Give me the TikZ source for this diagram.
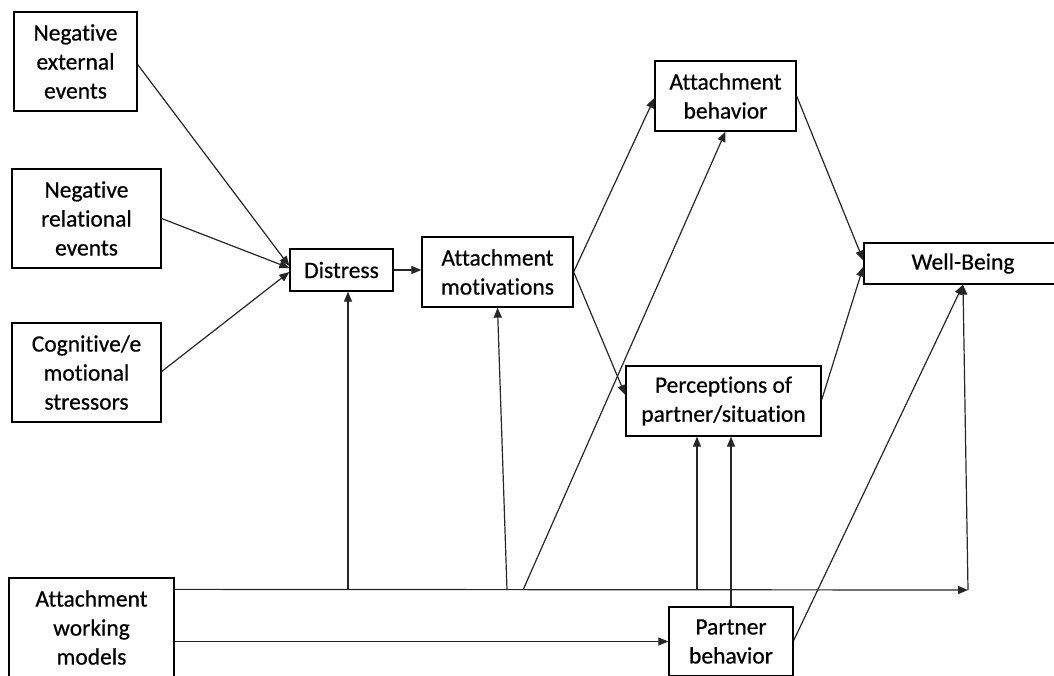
\documentclass[tikz,border=0pt]{standalone}
\usepackage{fontspec}
\setmainfont{Carlito}
\newfontfamily\boxfont{Carlito}[Ligatures=NoCommon, FakeBold=0.5]
\usetikzlibrary{arrows.meta,calc}

\begin{document}
\begin{tikzpicture}[x=1pt,y=-1pt,
  box/.style={draw=black, line width=1.3pt, align=center, inner sep=0pt,
    font=\boxfont\fontsize{23.5}{29}\selectfont},
  link/.style={line width=1.2pt, draw=black!85,
    -{Triangle[length=10pt,width=8pt]}}]

\useasboundingbox (0,0) rectangle (1054,675);
\clip (0,0) rectangle (1054,675);

% boxes
\node[box, minimum width=123, minimum height=99] (ext) at (75.5,61.5) {Negative\\external\\events};
\node[box, minimum width=149, minimum height=99] (rel) at (86.5,218.5) {Negative\\relational\\events};
\node[box, minimum width=149, minimum height=99] (cog) at (86.5,372.5) {Cognitive/e\\motional\\stressors};
\node[box, minimum width=103, minimum height=42] (dis) at (341.5,270) {Distress};
\node[box, minimum width=151, minimum height=70] (mot) at (497.5,272) {Attachment\\motivations};
\node[box, minimum width=141, minimum height=70] (beh) at (725.5,96) {Attachment\\behavior};
\node[box, minimum width=195, minimum height=70] (per) at (723.5,401) {Perceptions of\\partner/situation};
\node[box, minimum width=198, minimum height=41] (wb) at (963,263.5) {Well-Being};
\node[box, minimum width=165, minimum height=99] (awm) at (91.5,627.5) {Attachment\\working\\models};
\node[box, minimum width=124, minimum height=69] (pb) at (731,641.5) {Partner\\behavior};

% points on the long horizontal line
\coordinate (busL) at ($(awm.north east)+(0,12)$);
\coordinate (busR) at (968,590);
\coordinate (tapA) at (348,590);
\coordinate (tapB) at (507,590);
\coordinate (tapC) at (523,590);
\coordinate (tapD) at (697,590);

% stressors into distress
\draw[link] ($(ext.east)+(0,3)$) -- ($(dis.west)+(0,-4)$);
\draw[link] (rel.east) -- ($(dis.west)+(0,-2)$);
\draw[link] ($(cog.east)+(0,-1)$) -- ($(dis.west)+(0,2)$);

% main chain
\draw[link] (dis.east) -- (mot.west |- dis.east);
\draw[link] (mot.east) -- ($(beh.west)+(0,2)$);
\draw[link] (mot.east) -- ($(per.west)+(0,-6)$);
\draw[link] (beh.east) -- ($(wb.west)+(0,-3)$);
\draw[link] ($(per.east)+(0,-1)$) -- ($(wb.west)+(0,3)$);

% working models
\draw[link] (busL) -- (busR);
\draw[link] (busR) -- (wb.south);
\draw[link] (tapA) -- (tapA |- dis.south);
\draw[link] (tapB) -- (mot.south);
\draw[link] (tapC) -- (beh.south);
\draw[link] (tapD) -- (tapD |- per.south);
\draw[link] (awm.east |- pb.west) -- (pb.west);

% partner behavior
\draw[link] (pb.north) -- (pb.north |- per.south);
\draw[link] ($(pb.east)+(0,-1)$) -- (wb.south);

\end{tikzpicture}
\end{document}
